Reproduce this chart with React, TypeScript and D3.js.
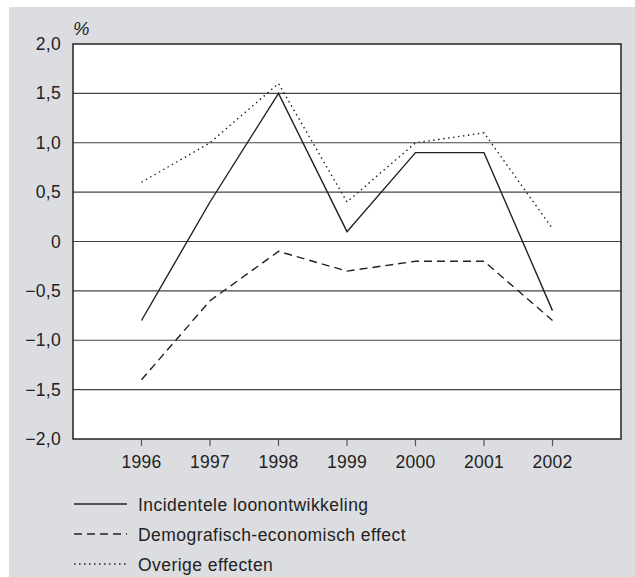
import React, { useEffect, useRef } from 'react';
import * as d3 from 'd3';

const years = [1996, 1997, 1998, 1999, 2000, 2001, 2002];
const incidenteel = [-0.8, 0.4, 1.5, 0.1, 0.9, 0.9, -0.7];
const demografisch = [-1.4, -0.6, -0.1, -0.3, -0.2, -0.2, -0.8];
const overige = [0.6, 1.0, 1.6, 0.4, 1.0, 1.1, 0.13];
const yTicks = [-2, -1.5, -1, -0.5, 0, 0.5, 1, 1.5, 2];
const seriesNames = ['Incidentele loonontwikkeling', 'Demografisch-economisch effect', 'Overige effecten'];

const App = () => {
    const ref = useRef(null);

    useEffect(() => {
        const width = 635;
        const height = 577;
        const left = 73, right = 621, top = 44, bottom = 439;
        const font = '"Liberation Sans", Arial, sans-serif';
        const ink = '#222';
        const fs = 17.5;

        const root = d3.select(ref.current);
        root.selectAll('*').remove();

        const svg = root.append('svg')
            .attr('width', width)
            .attr('height', height)
            .style('position', 'absolute')
            .style('left', 0)
            .style('top', 0);

        svg.append('rect')
            .attr('x', 9).attr('y', 7)
            .attr('width', width - 9).attr('height', height - 7)
            .attr('fill', '#dcdde0');

        const x = d3.scaleLinear().domain([1995, 2003]).range([left, right]);
        const y = d3.scaleLinear().domain([-2, 2]).range([bottom, top]);

        svg.append('rect')
            .attr('x', left).attr('y', top)
            .attr('width', right - left).attr('height', bottom - top)
            .attr('fill', '#fff');

        // gridlines
        svg.append('g')
            .selectAll('line')
            .data(yTicks.filter(d => d > -2 && d < 2))
            .enter()
            .append('line')
            .attr('x1', left).attr('x2', right)
            .attr('y1', d => y(d)).attr('y2', d => y(d))
            .attr('stroke', '#444')
            .attr('stroke-width', 1.2);

        // frame
        svg.append('rect')
            .attr('x', left).attr('y', top)
            .attr('width', right - left).attr('height', bottom - top)
            .attr('fill', 'none')
            .attr('stroke', ink)
            .attr('stroke-width', 1.5);

        // y labels
        svg.append('g')
            .selectAll('text')
            .data(yTicks)
            .enter()
            .append('text')
            .attr('x', 61)
            .attr('y', d => y(d) + 6)
            .attr('text-anchor', 'end')
            .attr('font-family', font)
            .attr('font-size', fs)
            .attr('letter-spacing', 0.3)
            .attr('fill', ink)
            .text(d => d === 0 ? '0' : d3.format('.1f')(d).replace('.', ',').replace('-', '\u2013'));

        svg.append('text')
            .attr('x', 73).attr('y', 35)
            .attr('font-family', font)
            .attr('font-size', 18.5)
            .attr('font-style', 'italic')
            .attr('fill', ink)
            .text('%');

        // x ticks
        svg.append('g')
            .selectAll('line')
            .data(years)
            .enter()
            .append('line')
            .attr('x1', d => x(d)).attr('x2', d => x(d))
            .attr('y1', bottom).attr('y2', bottom + 7)
            .attr('stroke', '#555')
            .attr('stroke-width', 1.2);

        svg.append('g')
            .selectAll('text')
            .data(years)
            .enter()
            .append('text')
            .attr('x', d => x(d))
            .attr('y', 468)
            .attr('text-anchor', 'middle')
            .attr('font-family', font)
            .attr('font-size', fs)
            .attr('letter-spacing', 0.3)
            .attr('fill', ink)
            .text(d => d);

        const series = [
            { values: incidenteel, dash: null },
            { values: demografisch, dash: '8,5' },
            { values: overige, dash: '1.5,3.5' },
        ];

        const line = d3.line<number>()
            .x((d, i) => x(years[i]))
            .y(d => y(d));

        series.forEach(s => {
            svg.append('path')
                .attr('d', line(s.values))
                .attr('fill', 'none')
                .attr('stroke', ink)
                .attr('stroke-width', 1.4)
                .attr('stroke-dasharray', s.dash);
        });

        // legend
        const legend = svg.append('g');
        series.forEach((s, i) => {
            const ly = 504 + i * 30;
            legend.append('line')
                .attr('x1', 74).attr('x2', 127)
                .attr('y1', ly).attr('y2', ly)
                .attr('stroke', ink)
                .attr('stroke-width', 1.4)
                .attr('stroke-dasharray', s.dash);
            legend.append('text')
                .attr('x', 138).attr('y', ly + 6.5)
                .attr('font-family', font)
                .attr('font-size', fs)
                .attr('letter-spacing', 0.45)
                .attr('fill', ink)
                .text(seriesNames[i]);
        });
    }, []);

    return <div ref={ref}></div>;
};

export default App;
